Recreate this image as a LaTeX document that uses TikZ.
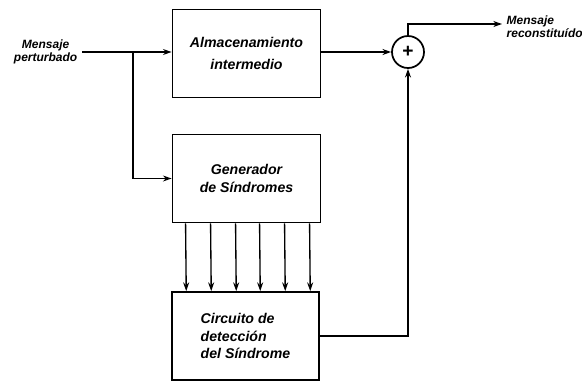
\documentclass[tikz,border=0pt]{standalone}
\usepackage{fontspec}
\setmainfont{Liberation Sans}
\usepackage{tikz}
\usetikzlibrary{arrows.meta, positioning, calc}

\begin{document}
\begin{tikzpicture}[
        x=0.75pt, y=-0.75pt,
        block/.style={
            rectangle,
            draw=black,
            line width=1.4pt,
            minimum width=111pt,
            minimum height=66pt,
            align=center,
            font=\bfseries\itshape\fontsize{10.6}{13}\selectfont
        },
        sumador/.style={
            circle,
            draw=black,
            line width=1.3pt,
            minimum size=24pt,
            inner sep=0pt,
            font=\bfseries\Large
        },
        arrow/.style={
            -{Stealth[length=6.5pt, width=4.5pt]},
            line width=1pt,
            draw=black
        },
        txt/.style={
            font=\bfseries\itshape\fontsize{9}{9.5}\selectfont
        }
    ]
        \useasboundingbox (0,0) rectangle (582,383);

        % Nodes
        \node[block] (alm) at (246.5, 53.5) {Almacenamiento\\[3pt]intermedio};
        \node[block] (gen) at (246.5, 178.5) {Generador\\de S\'{\i}ndromes};
        \node[block, minimum width=110pt, align=left] (det) at (245.5, 336) {Circuito de\\detecci\'on\\del S\'{\i}ndrome};
        \node[sumador] (sum) at (408, 52) {+};

        \coordinate (in) at (82, 52);
        \coordinate (br) at (133, 52);
        \coordinate (out) at (502, 24);

        % Labels
        \node[txt, left=0pt of in, align=center] (lbin) {Mensaje\\perturbado};
        \node[txt, right=0pt of out, align=left, yshift=-2pt] (lbout) {Mensaje\\reconstitu\'{\i}do};

        % Paths
        \draw[arrow] (in) -- (alm.west |- in);
        \draw[arrow] (br) |- (gen.west);
        \draw[arrow] (alm.east |- sum) -- (sum.west);
        \draw[arrow] (sum.north) |- (out);
        \draw[arrow] (det.east) -| (sum.south);
        \foreach \dx in {14, 39, 64, 88, 113, 138}
            \draw[arrow] ($(gen.south west)+(\dx,0)$) -- ($(det.north west)+(\dx+1,0)$);
    \end{tikzpicture}
\end{document}
